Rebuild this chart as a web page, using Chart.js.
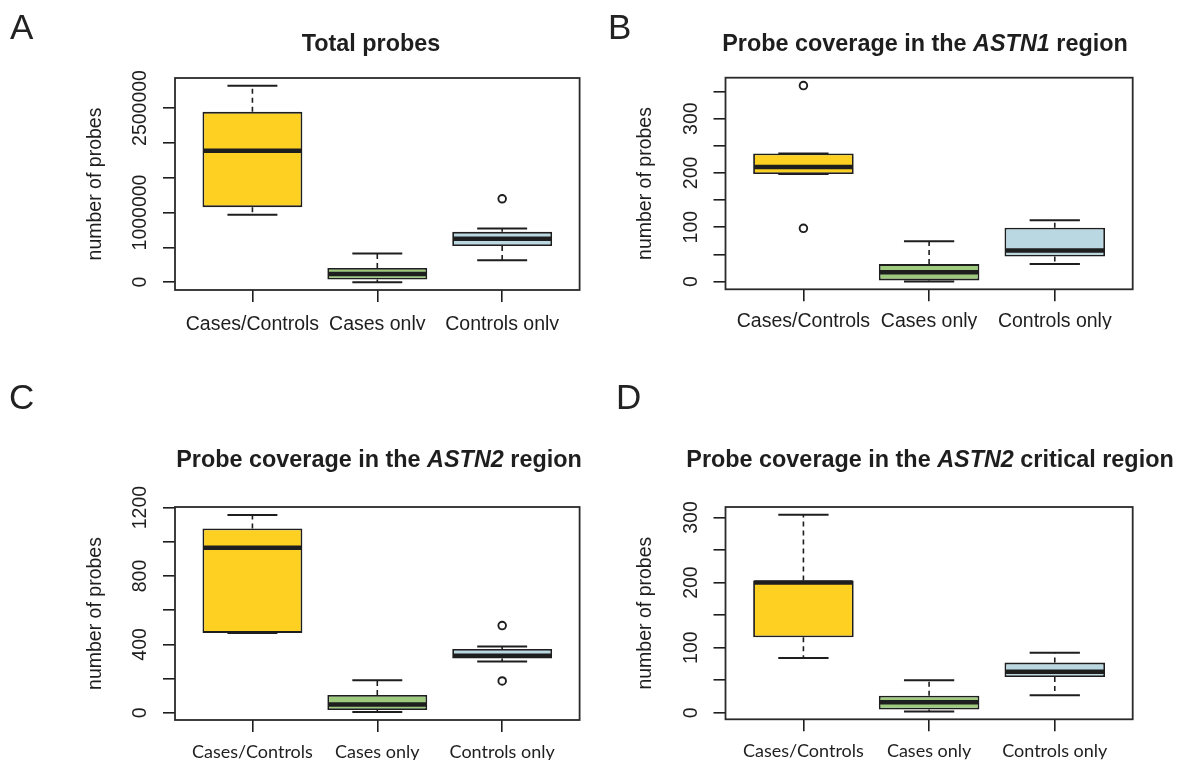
<!DOCTYPE html>
<html lang="en">
<head>
<meta charset="UTF-8">
<title>Probe coverage</title>
<script src="https://cdn.jsdelivr.net/npm/chart.js@4.4.1/dist/chart.umd.min.js"></script>
<style>
    body { margin: 0; background: #fff; }
    .figure { position: relative; width: 1177px; height: 761px; overflow: hidden; background: #fff; }
    .figure canvas { position: absolute; }
</style>
</head>
<body>
<div class="figure">
    <canvas id="panelA" width="590" height="380" style="left:0;top:0"></canvas>
    <canvas id="panelB" width="587" height="380" style="left:590px;top:0"></canvas>
    <canvas id="panelC" width="590" height="381" style="left:0;top:380px"></canvas>
    <canvas id="panelD" width="587" height="381" style="left:590px;top:380px"></canvas>
</div>
<script>
const groups = ['Cases/Controls', 'Cases only', 'Controls only'];
const boxColors = ['#fdd022', '#9eca7e', '#b9d8e1'];

// box stats: [lower whisker, Q1, median, Q3, upper whisker]
const totalStats = [
    [967000, 1077000, 1885000, 2445000, 2818000],
    [0, 38000, 118000, 204000, 410000],
    [315000, 520000, 622000, 722000, 770000]
];
const totalOutliers = [[], [], [1197000]];
const totalTicks = [0, 500000, 1000000, 1500000, 2000000, 2500000];
const totalTickLabels = [0, 1000000, 2500000];

const astn1Stats = [
    [198, 198, 211, 236, 236],
    [0, 2, 17, 32, 74],
    [32, 46, 57, 99, 113]
];
const astn1Outliers = [[361, 98], [], []];
const astn1Ticks = [0, 50, 100, 150, 200, 250, 300, 350];
const astn1TickLabels = [0, 100, 200, 300];

const astn2Stats = [
    [467, 467, 965, 1078, 1157],
    [4, 16, 49, 104, 190],
    [300, 318, 333, 373, 388]
];
const astn2Outliers = [[], [], [510, 186]];
const astn2Ticks = [0, 200, 400, 600, 800, 1000, 1200];
const astn2TickLabels = [0, 400, 800, 1200];

const criticalStats = [
    [84, 116, 200, 203, 304],
    [2, 5, 16, 26, 50],
    [27, 55, 63, 77, 92]
];
const criticalOutliers = [[], [], []];
const criticalTicks = [0, 50, 100, 150, 200, 250, 300];
const criticalTickLabels = [0, 100, 200, 300];

const ink = '#1e1e1e';
const arial = '"Liberation Sans", Arial, sans-serif';

// whiskers, staples, medians, frame and the rotated y labels
const boxPlot = {
    id: 'boxPlot',
    afterDatasetsDraw(chart, args, o) {
        const {ctx, scales: {x, y}} = chart;
        const bars = chart.getDatasetMeta(0).data;
        ctx.save();
        ctx.strokeStyle = ink;
        o.stats.forEach((s, i) => {
            const cx = x.getPixelForValue(i + 1);
            const half = bars[i].width / 2;
            const [lo, q1, med, q3, hi] = s.map(v => y.getPixelForValue(v));
            ctx.lineWidth = 1.6;
            ctx.setLineDash([5, 4]);
            ctx.beginPath();
            if (hi < q3) { ctx.moveTo(cx, q3); ctx.lineTo(cx, hi); }
            if (lo > q1) { ctx.moveTo(cx, q1); ctx.lineTo(cx, lo); }
            ctx.stroke();
            ctx.setLineDash([]);
            ctx.lineWidth = 2;
            ctx.beginPath();
            ctx.moveTo(cx - half / 2, hi); ctx.lineTo(cx + half / 2, hi);
            ctx.moveTo(cx - half / 2, lo); ctx.lineTo(cx + half / 2, lo);
            ctx.stroke();
            ctx.lineWidth = 4.5;
            ctx.beginPath();
            ctx.moveTo(cx - half + 1, med); ctx.lineTo(cx + half - 1, med);
            ctx.stroke();
        });
        ctx.restore();
    },
    afterDraw(chart, args, o) {
        const {ctx, chartArea: a, scales: {y}} = chart;
        ctx.save();
        ctx.strokeStyle = '#2a2a2a';
        ctx.lineWidth = 1.8;
        ctx.strokeRect(a.left, a.top, a.right - a.left, a.bottom - a.top);

        ctx.fillStyle = ink;
        ctx.font = '19.5px ' + arial;
        ctx.textAlign = 'center';
        ctx.textBaseline = 'middle';
        o.tickLabels.forEach(v => {
            ctx.save();
            ctx.translate(a.left - 34, y.getPixelForValue(v));
            ctx.rotate(-Math.PI / 2);
            ctx.fillText(String(v), 0, 0);
            ctx.restore();
        });

        // panel title, gene names in italics
        ctx.textAlign = 'left';
        ctx.textBaseline = 'alphabetic';
        const fontOf = it => (it ? 'italic ' : '') + 'bold 23.4px ' + arial;
        let total = 0;
        o.title.forEach(([t, it]) => { ctx.font = fontOf(it); total += ctx.measureText(t).width; });
        let tx = o.titleX - total / 2;
        o.title.forEach(([t, it]) => {
            ctx.font = fontOf(it);
            ctx.fillText(t, tx, o.titleY);
            tx += ctx.measureText(t).width;
        });

        ctx.font = '35px ' + arial;
        ctx.fillStyle = '#222';
        ctx.fillText(o.letter, o.letterX, o.letterY);
        ctx.restore();
    }
};

function makePanel(id, p) {
    const canvas = document.getElementById(id);
    const W = canvas.width, H = canvas.height;
    const all = p.stats.flat().concat(p.outliers.flat());
    const dMin = Math.min(...all), dMax = Math.max(...all);
    const yPad = (dMax - dMin) * 0.04;
    const xPad = groups.length * 0.04;
    const yAxisW = 100, xAxisH = 40;

    return new Chart(canvas, {
        data: {
            datasets: [
                {
                    type: 'bar',
                    data: p.stats.map((s, i) => ({x: i + 1, y: [s[1], s[3]]})),
                    backgroundColor: boxColors,
                    borderColor: ink,
                    borderWidth: 1.8,
                    borderSkipped: false,
                    barPercentage: 0.8,
                    categoryPercentage: 1
                },
                {
                    type: 'scatter',
                    data: p.outliers.flatMap((arr, i) => arr.map(v => ({x: i + 1, y: v}))),
                    pointRadius: 3.8,
                    pointBorderWidth: 1.9,
                    borderColor: ink,
                    backgroundColor: '#fff'
                }
            ]
        },
        options: {
            responsive: false,
            animation: false,
            layout: {
                padding: {
                    left: p.area.left - yAxisW,
                    right: W - p.area.right,
                    top: p.area.top,
                    bottom: H - p.area.bottom - xAxisH
                }
            },
            scales: {
                x: {
                    type: 'linear',
                    offset: false,
                    min: 0.5 - xPad,
                    max: groups.length + 0.5 + xPad,
                    afterBuildTicks: s => { s.ticks = groups.map((g, i) => ({value: i + 1})); },
                    afterFit: s => { s.height = xAxisH; },
                    border: { display: false },
                    grid: { offset: false, drawOnChartArea: false, tickLength: 12, color: ink, lineWidth: 1.6 },
                    ticks: {
                        autoSkip: false, maxRotation: 0, minRotation: 0,
                        padding: p.xLabelPad, color: ink, font: p.xFont,
                        callback: v => groups[Math.round(v) - 1]
                    }
                },
                y: {
                    type: 'linear',
                    min: dMin - yPad,
                    max: dMax + yPad,
                    afterBuildTicks: s => { s.ticks = p.ticks.map(v => ({value: v})); },
                    afterFit: s => { s.width = yAxisW; },
                    border: { display: false },
                    grid: { drawOnChartArea: false, tickLength: 12, color: ink, lineWidth: 1.6 },
                    ticks: { display: false },
                    title: {
                        display: true, text: 'number of probes', color: ink,
                        font: { family: arial, size: 19.5 },
                        padding: { top: 8.5, bottom: 0 }
                    }
                }
            },
            plugins: {
                legend: { display: false },
                tooltip: { enabled: false },
                boxPlot: {
                    stats: p.stats, tickLabels: p.tickLabels,
                    title: p.title, titleX: p.titleX, titleY: p.titleY,
                    letter: p.letter, letterX: p.letterX, letterY: p.letterY
                }
            }
        },
        plugins: [boxPlot]
    });
}

const rFont = { family: arial, size: 19.5 };
const lightFont = { family: 'Lato, "Open Sans", sans-serif', size: 18 };

makePanel('panelA', {
    stats: totalStats, outliers: totalOutliers, ticks: totalTicks, tickLabels: totalTickLabels,
    area: { left: 175, right: 579.6, top: 78, bottom: 290 },
    title: [['Total probes', false]], titleX: 371, titleY: 51,
    letter: 'A', letterX: 10, letterY: 39,
    xFont: rFont, xLabelPad: 11
});
makePanel('panelB', {
    stats: astn1Stats, outliers: astn1Outliers, ticks: astn1Ticks, tickLabels: astn1TickLabels,
    area: { left: 135.5, right: 542.7, top: 77.7, bottom: 289.3 },
    title: [['Probe coverage in the ', false], ['ASTN1', true], [' region', false]], titleX: 335, titleY: 51,
    letter: 'B', letterX: 18, letterY: 39,
    xFont: rFont, xLabelPad: 9
});
makePanel('panelC', {
    stats: astn2Stats, outliers: astn2Outliers, ticks: astn2Ticks, tickLabels: astn2TickLabels,
    area: { left: 175, right: 579.6, top: 127, bottom: 340 },
    title: [['Probe coverage in the ', false], ['ASTN2', true], [' region', false]], titleX: 379, titleY: 87,
    letter: 'C', letterX: 9, letterY: 29,
    xFont: lightFont, xLabelPad: 9
});
makePanel('panelD', {
    stats: criticalStats, outliers: criticalOutliers, ticks: criticalTicks, tickLabels: criticalTickLabels,
    area: { left: 135.5, right: 542.7, top: 127, bottom: 339.3 },
    title: [['Probe coverage in the ', false], ['ASTN2', true], [' critical region', false]], titleX: 340, titleY: 87,
    letter: 'D', letterX: 26, letterY: 29,
    xFont: lightFont, xLabelPad: 9
});
</script>
</body>
</html>
